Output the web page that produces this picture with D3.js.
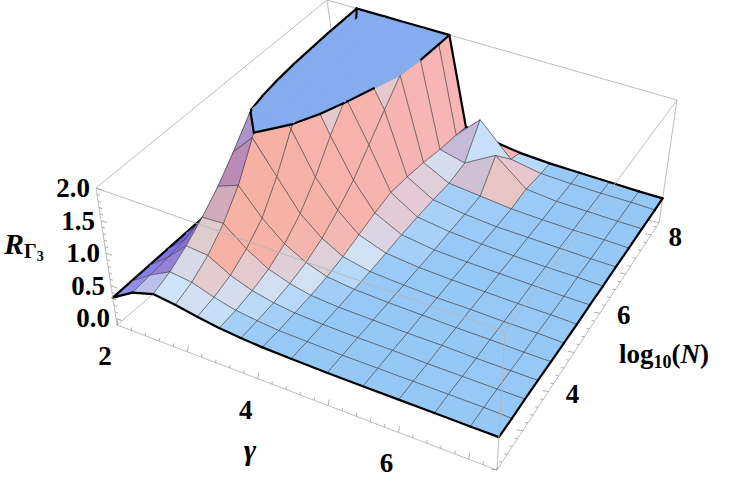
<!DOCTYPE html>
<html>
<head>
<meta charset="utf-8">
<script src="https://cdn.jsdelivr.net/npm/d3@7"></script>
<style>
  body { margin: 0; background: #fff; }
  text { font-family: "Liberation Serif", "DejaVu Serif", serif; font-weight: bold; }
</style>
</head>
<body>
<svg id="chart" width="736" height="485"></svg>
<script>
// grid: columns = gamma, rows = log10(N)
const gammaVals = [2, 2.3, 2.6, 2.9, 3.2, 3.5, 3.8, 4.1, 4.5, 5, 5.5, 6, 6.5, 7, 7.4];
const logNVals = [2, 2.5, 3, 3.5, 4, 4.5, 5, 5.5, 6, 6.5, 7, 7.5, 8, 8.3];
const R = [
  [0.32, 0.52, 0.62, 0.58, 0.52, 0.47, 0.44, 0.42, 0.41, 0.40, 0.40, 0.40, 0.40, 0.40, 0.40],
  [0.33, 0.55, 0.72, 0.68, 0.57, 0.49, 0.45, 0.42, 0.41, 0.40, 0.40, 0.40, 0.40, 0.40, 0.39],
  [0.34, 0.58, 0.88, 0.85, 0.66, 0.54, 0.47, 0.43, 0.41, 0.40, 0.40, 0.39, 0.39, 0.39, 0.39],
  [0.35, 0.62, 1.08, 1.10, 0.82, 0.62, 0.51, 0.44, 0.41, 0.40, 0.39, 0.39, 0.38, 0.38, 0.38],
  [0.36, 0.66, 1.32, 1.45, 1.05, 0.76, 0.58, 0.47, 0.42, 0.40, 0.39, 0.38, 0.38, 0.37, 0.37],
  [0.37, 0.70, 1.62, 1.95, 1.45, 0.98, 0.70, 0.52, 0.43, 0.40, 0.38, 0.38, 0.37, 0.37, 0.36],
  [0.38, 0.74, 1.95, 2.40, 1.95, 1.30, 0.88, 0.60, 0.45, 0.40, 0.38, 0.37, 0.36, 0.36, 0.35],
  [0.39, 0.78, 2.25, 2.70, 2.40, 1.70, 1.10, 0.68, 0.47, 0.40, 0.38, 0.37, 0.36, 0.35, 0.35],
  [0.40, 0.82, 2.50, 2.90, 2.70, 2.05, 1.40, 0.74, 0.48, 0.41, 0.38, 0.36, 0.35, 0.35, 0.34],
  [0.40, 0.86, 2.70, 3.00, 2.90, 2.35, 1.70, 0.72, 0.48, 0.41, 0.37, 0.36, 0.35, 0.34, 0.34],
  [0.40, 0.90, 2.80, 3.10, 3.00, 2.60, 2.00, 0.68, 0.47, 0.42, 0.37, 0.35, 0.34, 0.34, 0.33],
  [0.40, 0.94, 2.90, 3.20, 3.10, 2.80, 2.30, 0.62, 0.52, 0.80, 0.40, 0.35, 0.34, 0.33, 0.33],
  [0.40, 0.97, 2.90, 3.20, 3.20, 2.95, 2.50, 0.58, 0.95, 0.45, 0.36, 0.34, 0.33, 0.33, 0.32],
  [0.40, 1.00, 2.90, 3.20, 3.20, 3.00, 2.60, 0.55, 0.45, 0.38, 0.35, 0.34, 0.33, 0.32, 0.32]
];
const zTicks = [0, 0.5, 1, 1.5, 2];
const gammaTicks = [2, 4, 6];
const logNTicks = [4, 6, 8];
const zCap = 2;

const svg = d3.select("#chart");

const su = d3.scaleLinear().domain([2, 7.4]).range([0, 1]);
const sv = d3.scaleLinear().domain([2, 8.3]).range([0, 1]);
const sw = d3.scaleLinear().domain([-0.1, 2]).range([0, 1]);

// box corners on screen (b = bottom, t = top)
const C = {
  FLb: [117, 325], FLt: [96, 188],
  FRb: [497, 470], FRt: [505, 332],
  BRb: [659, 223], BRt: [677, 100],
  BLb: [345, 130], BLt: [327, 0]
};
function bil(a, b, c, d, u, v) {
  return [0, 1].map(k => (1 - u) * (1 - v) * a[k] + u * (1 - v) * b[k] + (1 - u) * v * c[k] + u * v * d[k]);
}
function proj(g, l, z) {
  const u = su(g), v = sv(l), w = sw(z);
  const b = bil(C.FLb, C.FRb, C.BLb, C.BRb, u, v);
  const t = bil(C.FLt, C.FRt, C.BLt, C.BRt, u, v);
  return [b[0] + (t[0] - b[0]) * w, b[1] + (t[1] - b[1]) * w];
}
const line = d3.line().x(d => d[0]).y(d => d[1]);
const P = p => proj(p.g, p.l, p.z);

function boxEdge(a, b) {
  svg.append("line").attr("x1", a[0]).attr("y1", a[1]).attr("x2", b[0]).attr("y2", b[1])
    .attr("stroke", "#b5b5b5").attr("stroke-width", 0.9);
}
boxEdge(C.BLb, C.BLt); boxEdge(C.BLt, C.BRt); boxEdge(C.BLb, C.BRb);
boxEdge(C.FLt, C.BLt); boxEdge(C.FLb, C.BLb); boxEdge(C.BRb, C.BRt);

// colours
const flatBlue = d3.rgb(150, 200, 246), white = d3.rgb(244, 246, 255);
const salmon = d3.rgb(248, 172, 138), purple = d3.rgb(110, 98, 232), pink = d3.rgb(246, 190, 226);
function shade(i, j) {
  const du = su(gammaVals[j + 1]) - su(gammaVals[j]);
  const dv = sv(logNVals[i + 1]) - sv(logNVals[i]);
  const Z = (a, b) => sw(Math.min(R[a][b], zCap)) * 0.5;
  const zx = ((Z(i, j + 1) - Z(i, j)) + (Z(i + 1, j + 1) - Z(i + 1, j))) / 2 / du;
  const zy = ((Z(i + 1, j) - Z(i, j)) + (Z(i + 1, j + 1) - Z(i, j + 1))) / 2 / dv;
  const n = Math.hypot(zx, zy, 1);
  const nx = -zx / n, ny = -zy / n, nz = 1 / n;
  const s = 1 - nz;
  const front = Math.max(0, -ny), left = Math.max(0, -nx), right = Math.max(0, nx);
  const tot = front + left + right + 1e-6;
  let steep = d3.interpolateRgb(salmon, purple)(left / tot);
  steep = d3.interpolateRgb(steep, pink)(0.5 * right / tot);
  if (s < 0.05) return d3.interpolateRgb(flatBlue, white)(s / 0.05 * 0.6);
  return d3.interpolateRgb(d3.interpolateRgb(flatBlue, white)(0.6), steep)(Math.min(1, (s - 0.05) / 0.3));
}

function clip(poly, below) {
  const out = [];
  const inside = p => below ? p.z <= zCap : p.z >= zCap;
  for (let k = 0; k < poly.length; k++) {
    const a = poly[k], b = poly[(k + 1) % poly.length];
    if (inside(a)) out.push(below ? a : { g: a.g, l: a.l, z: zCap });
    if (inside(a) !== inside(b)) {
      const t = (zCap - a.z) / (b.z - a.z);
      out.push({ g: a.g + t * (b.g - a.g), l: a.l + t * (b.l - a.l), z: zCap });
    }
  }
  return out;
}

// back-to-front from an assumed eye position
const eye = [0.5, -1.6, 1.6];
const quads = [];
for (let i = 0; i < logNVals.length - 1; i++) {
  for (let j = 0; j < gammaVals.length - 1; j++) {
    const cu = su((gammaVals[j] + gammaVals[j + 1]) / 2);
    const cv = sv((logNVals[i] + logNVals[i + 1]) / 2);
    const cz = sw(Math.min(zCap, (R[i][j] + R[i][j + 1] + R[i + 1][j] + R[i + 1][j + 1]) / 4)) * 0.5;
    quads.push({ i, j, d: Math.hypot(cu - eye[0], cv - eye[1], cz - eye[2]) });
  }
}
quads.sort((a, b) => b.d - a.d);

const surf = svg.append("g");
function thick(a, b) {
  const pts = [a];
  if ((a.z - zCap) * (b.z - zCap) < 0) {
    const t = (zCap - a.z) / (b.z - a.z);
    pts.push({ g: a.g + t * (b.g - a.g), l: a.l + t * (b.l - a.l), z: zCap });
  }
  pts.push(b);
  surf.append("path").attr("d", line(pts.map(p => P({ g: p.g, l: p.l, z: Math.min(p.z, zCap) }))))
    .attr("fill", "none").attr("stroke", "#000").attr("stroke-width", 2.2).attr("stroke-linecap", "round");
}

quads.forEach(({ i, j }) => {
  const pt = (a, b) => ({ g: gammaVals[b], l: logNVals[a], z: R[a][b] });
  const poly = [pt(i, j), pt(i, j + 1), pt(i + 1, j + 1), pt(i + 1, j)];
  const lo = clip(poly, true), hi = clip(poly, false);
  if (lo.length > 2) {
    surf.append("path").attr("d", line(lo.map(P)) + "Z")
      .attr("fill", shade(i, j)).attr("stroke", "#3a3a3a").attr("stroke-width", 0.7)
      .attr("stroke-opacity", 0.75).attr("stroke-linejoin", "round");
  }
  if (hi.length > 2) {
    surf.append("path").attr("d", line(hi.map(P)) + "Z")
      .attr("fill", "#86acf0").attr("stroke", "#86acf0").attr("stroke-width", 0.8);
  }
  const cross = [];
  for (let k = 0; k < 4; k++) {
    const a = poly[k], b = poly[(k + 1) % 4];
    if ((a.z - zCap) * (b.z - zCap) < 0) {
      const t = (zCap - a.z) / (b.z - a.z);
      cross.push({ g: a.g + t * (b.g - a.g), l: a.l + t * (b.l - a.l), z: zCap });
    }
  }
  if (cross.length === 2) thick(cross[0], cross[1]);
  if (i === 0) thick(poly[0], poly[1]);
  if (i === logNVals.length - 2) thick(poly[3], poly[2]);
  if (j === 0) thick(poly[0], poly[3]);
  if (j === gammaVals.length - 2) thick(poly[1], poly[2]);
});

// front box edges
boxEdge(C.FLb, C.FLt); boxEdge(C.FLt, C.FRt); boxEdge(C.FRb, C.FRt);
boxEdge(C.FLb, C.FRb); boxEdge(C.FRb, C.BRb); boxEdge(C.FRt, C.BRt);

function tick(p, dx, dy) {
  svg.append("line").attr("x1", p[0]).attr("y1", p[1]).attr("x2", p[0] + dx).attr("y2", p[1] + dy)
    .attr("stroke", "#999").attr("stroke-width", 0.8);
}
d3.range(0, 2.01, 0.1).forEach(z => {
  const major = Math.abs(z * 2 - Math.round(z * 2)) < 1e-6;
  tick(proj(2, 2, z), major ? 6 : 3, major ? 2 : 1);
});
d3.range(2, 7.41, 0.2).forEach(g => {
  const major = Math.abs(g - Math.round(g)) < 1e-6;
  tick(proj(g, 2, -0.1), major ? 1 : 0.5, major ? -6 : -3);
});
d3.range(2, 8.31, 0.2).forEach(l => {
  const major = Math.abs(l - Math.round(l)) < 1e-6;
  tick(proj(7.4, l, -0.1), major ? -6 : -3, major ? -1 : -0.5);
});

const fs = 27;
zTicks.forEach(z => {
  const p = proj(2, 2, z);
  svg.append("text").attr("x", p[0] - 6).attr("y", p[1] + 9).attr("text-anchor", "end")
    .attr("font-size", fs).text(d3.format(".1f")(z));
});
gammaTicks.forEach(g => {
  const p = proj(g, 2, -0.1);
  svg.append("text").attr("x", p[0] - 12).attr("y", p[1] + 40).attr("text-anchor", "middle")
    .attr("font-size", fs).text(g);
});
logNTicks.forEach(l => {
  const p = proj(7.4, l, -0.1);
  svg.append("text").attr("x", p[0] + 24).attr("y", p[1] + 11).attr("text-anchor", "middle")
    .attr("font-size", fs).text(l);
});

const rt = svg.append("text").attr("x", 4).attr("y", 254).attr("font-size", 30);
rt.append("tspan").attr("font-style", "italic").text("R");
rt.append("tspan").attr("font-size", 20).attr("dy", 4).text("Γ");
rt.append("tspan").attr("font-size", 14).attr("dy", 3).text("3");

svg.append("text").attr("x", 250).attr("y", 460).attr("text-anchor", "middle")
  .attr("font-size", 30).attr("font-style", "italic").attr("font-weight", "normal").text("γ");

const lt = svg.append("text").attr("x", 619).attr("y", 363).attr("font-size", 27);
lt.append("tspan").text("log");
lt.append("tspan").attr("font-size", 18).attr("dy", 5).text("10");
lt.append("tspan").attr("dy", -5).text("(");
lt.append("tspan").attr("font-style", "italic").text("N");
lt.append("tspan").text(")");
</script>
</body>
</html>
